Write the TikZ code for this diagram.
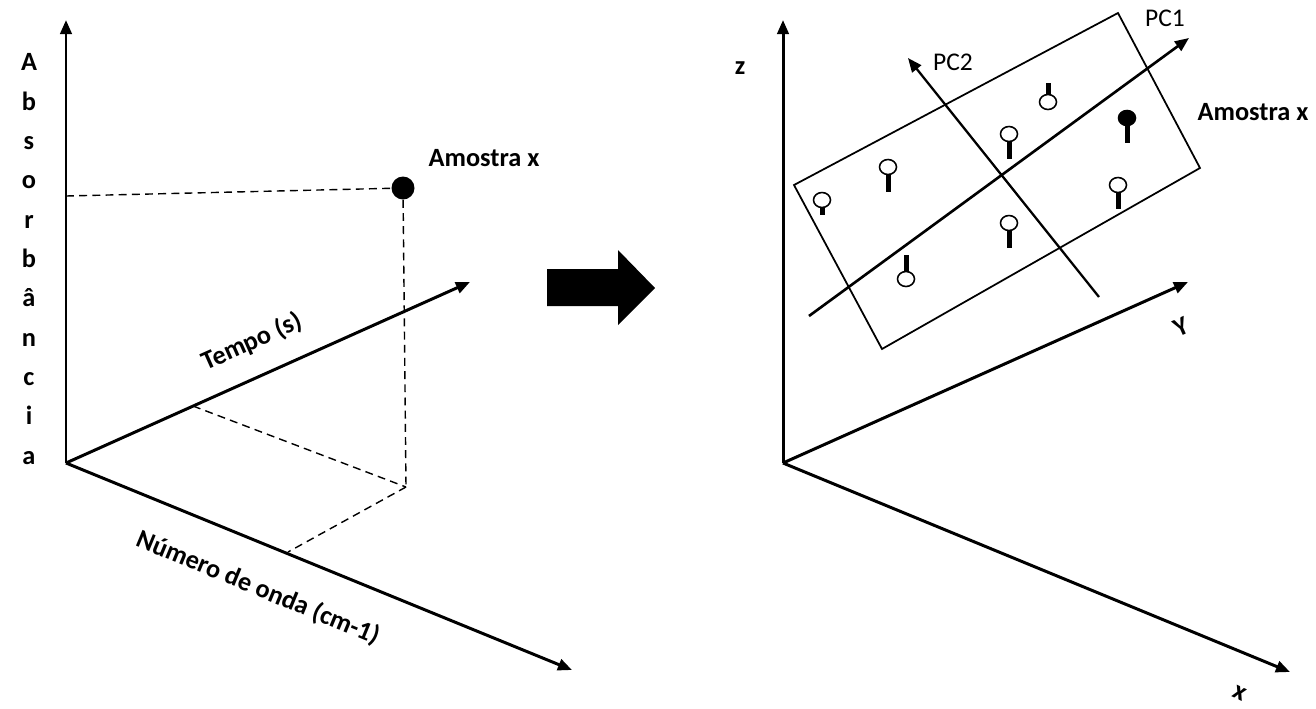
\documentclass[tikz,border=0pt]{standalone}
\usepackage{fontspec}
\setmainfont{Carlito}
\usetikzlibrary{arrows.meta,shapes.geometric}

\tikzset{
  axis/.style={line width=1.7pt,-{Triangle[length=8pt,width=6.5pt]}},
  guide/.style={line width=0.8pt,dash pattern=on 4.5pt off 3pt},
  lbl/.style={font=\fontsize{15}{18}\selectfont\bfseries,inner sep=0pt},
  pclbl/.style={font=\fontsize{14.5}{17}\selectfont,inner sep=0pt},
  sample/.style={ellipse,draw,line width=0.9pt,inner sep=0pt,minimum width=0.34cm,minimum height=0.30cm}
}

\begin{document}
\begin{tikzpicture}[x=0.02cm,y=-0.02cm]

% Frame of the picture
\useasboundingbox (0,0) rectangle (1316,708);

%----- Left: raw data space -----

% Origin and axis ends
\coordinate (O) at (66,463);
\coordinate (absTop) at (66,20);
\coordinate (tempoEnd) at (470,282);
\coordinate (ondaEnd) at (572,670);

% Axes
\draw[axis] (O) -- (absTop);
\draw[axis] (O) -- (tempoEnd);
\draw[axis] (O) -- (ondaEnd);

% Sample point
\node[circle,fill=black,inner sep=0pt,minimum size=0.46cm] (ptA) at (403,188) {};
\node[lbl] (ptAlbl) at (484,158) {Amostra x};

% Projections
\coordinate (absY) at (66,196);
\coordinate (foot) at (406,487);
\coordinate (tMark) at (193,406);
\coordinate (nMark) at (288,552);
\draw[guide] (absY) -- (ptA);
\draw[guide] (ptA) -- (foot);
\draw[guide] (tMark) -- (foot);
\draw[guide] (foot) -- (nMark);

% Axis labels
\node[lbl,align=center,font=\fontsize{15}{22.4}\selectfont\bfseries] (absLbl) at (29,259)
  {A\\b\\s\\o\\r\\b\\â\\n\\c\\i\\a};
\node[lbl,rotate=24] (tempoLbl) at (252,342) {Tempo (s)};
\node[lbl,rotate=-22.5] (ondaLbl) at (258,588) {Número de onda (cm-1)};

%----- Middle: big arrow -----
\fill (547,269) -- (618,269) -- (618,250) -- (655,288) -- (618,325) -- (618,306) -- (547,306) -- cycle;

%----- Right: PCA space -----

% Origin and axis ends
\coordinate (O2) at (783,463);
\coordinate (zTop) at (783,20);
\coordinate (yEnd) at (1188,282);
\coordinate (xEnd) at (1290,672);

\draw[axis] (O2) -- (zTop);
\draw[axis] (O2) -- (yEnd);
\draw[axis] (O2) -- (xEnd);

\node[lbl] (zLbl) at (740,68) {z};
\node[lbl,rotate=24] (yLbl) at (1181,327) {Y};
\node[lbl,rotate=-25] (xLbl) at (1240,693) {x};

% Plane of the samples
\coordinate (P1) at (794,185);
\coordinate (P2) at (1118,13);
\coordinate (P3) at (1200,168);
\coordinate (P4) at (882,349);
\draw[line width=1pt] (P1) -- (P2) -- (P3) -- (P4) -- cycle;

% Principal components
\coordinate (pc1Start) at (809,316);
\coordinate (pc1End) at (1189,38);
\coordinate (pc2Start) at (1099,297);
\coordinate (pc2End) at (908,58);
\draw[line width=1.5pt,-{Triangle[length=8pt,width=6.5pt]}] (pc1Start) -- (pc1End);
\draw[line width=1.3pt,-{Triangle[length=8pt,width=6.5pt]}] (pc2Start) -- (pc2End);
\node[pclbl] (pc1Lbl) at (1165,18) {PC1};
\node[pclbl] (pc2Lbl) at (953,62) {PC2};

% Samples (centre, bar from, bar to, fill)
\foreach \n/\px/\py/\ba/\bb/\fc in {1/822/200/207/215/white,2/888/167/174/192/white,
    3/906/279/255/272/white,4/1009/134/141/159/white,5/1048/102/83/95/white,
    6/1009/223/230/248/white,7/1127/118/125/143/black,8/1118/185/192/209/white}{
  \fill (\px-2.5,\ba) rectangle (\px+2.5,\bb);
  \node[sample,fill=\fc] (s\n) at (\px,\py) {};
}

\node[lbl] (sampLbl) at (1253,112) {Amostra x};

\end{tikzpicture}
\end{document}
